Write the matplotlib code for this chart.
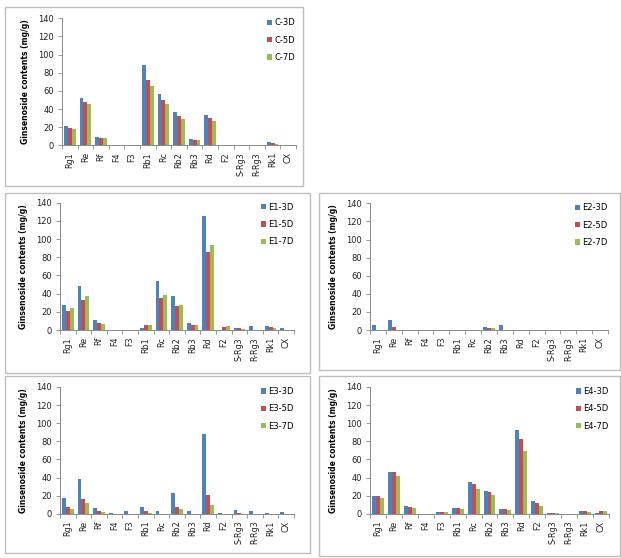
import matplotlib
matplotlib.use("Agg")
import matplotlib.pyplot as plt
import numpy as np
from matplotlib.patches import Rectangle

categories = ["Rg1", "Re", "Rf", "F4", "F3", "Rb1", "Rc", "Rb2", "Rb3", "Rd",
              "F2", "S-Rg3", "R-Rg3", "Rk1", "CX"]
yticks = [0, 20, 40, 60, 80, 100, 120, 140]

C_3D = [21, 52, 9.5, 0, 0, 88, 56.5, 37, 7.4, 33.5, 0, 0.5, 0, 3.7, 0]
C_5D = [19, 47.5, 8.5, 0, 0, 72, 50, 32.5, 6.2, 30, 0, 0.4, 0, 2.3, 0]
C_7D = [18.5, 45.5, 7.7, 0, 0, 65.5, 45.5, 29.5, 5.5, 27, 0, 0.3, 0, 1.5, 0]

E1_3D = [28, 48, 10.5, 0, 0, 2.5, 53.5, 37.5, 8.2, 125, 0, 1.8, 4.3, 4, 2]
E1_5D = [21, 33.5, 7.5, 0, 0.3, 5.3, 35.5, 26.5, 5, 86, 3, 1.8, 0.3, 3, 0]
E1_7D = [24.5, 37.5, 7, 0, 0.3, 5, 39, 28, 6, 94, 4, 1.5, 0.3, 2, 0]

E2_3D = [5, 11, 0, 0, 0, 0, 0, 3, 5.5, 0, 0, 0, 0, 0, 0]
E2_5D = [0.5, 3, 0, 0, 0, 0, 0, 2.2, 0.5, 0, 0, 0, 0, 0, 0]
E2_7D = [0, 0.3, 0, 0, 0, 0, 0, 2, 0.3, 0, 0, 0, 0, 0, 0]

E3_3D = [17, 38.5, 6, 0.5, 2.5, 7.4, 2.5, 23, 3, 88.5, 0.5, 4, 3.2, 0.5, 2.2]
E3_5D = [7.4, 16.5, 2.6, 0, 0, 3, 0, 7.4, 0, 21, 0, 0.3, 0, 0, 0]
E3_7D = [5.2, 11.3, 1.8, 0, 0, 1, 0, 4.8, 0, 9.2, 0, 0, 0, 0, 0]

E4_3D = [19.2, 46, 8.1, 0, 1.5, 5.9, 35, 25, 4.8, 92, 14, 0.5, 0, 3, 0.5]
E4_5D = [19.5, 46, 7.4, 0, 2.2, 5.9, 32.4, 24, 4.8, 83, 11.8, 0.5, 0, 2.6, 3]
E4_7D = [17.3, 41.3, 5.9, 0, 2.2, 5.2, 27.3, 20.6, 4.4, 69, 8.5, 0.5, 0, 1.5, 2.6]

colors = ["#4F81BD", "#C0504D", "#9BBB59"]

W, H = 621, 558
fig = plt.figure(figsize=(W / 100, H / 100), dpi=100)
fig.patch.set_facecolor("white")

def fx(px):
    return px / W

def fy(py):
    return 1 - py / H

# panel borders (left, top, right, bottom) in px
borders = [(5, 7, 303, 186), (5, 193, 310, 373), (319, 193, 620, 370),
           (5, 376, 310, 553), (319, 376, 620, 556)]
for (l, t, r, b) in borders:
    fig.add_artist(Rectangle((fx(l), fy(b)), fx(r) - fx(l), fy(t) - fy(b),
                             transform=fig.transFigure, fill=False,
                             edgecolor="#BEBEBE", linewidth=1.0))

panels = [
    ("C", (C_3D, C_5D, C_7D), (62, 18.3, 296, 145.3)),
    ("E1", (E1_3D, E1_5D, E1_7D), (60, 202.7, 294, 330)),
    ("E2", (E2_3D, E2_5D, E2_7D), (370, 203.3, 608, 330)),
    ("E3", (E3_3D, E3_5D, E3_7D), (60, 387, 294, 513.7)),
    ("E4", (E4_3D, E4_5D, E4_7D), (370, 387, 609, 513.7)),
]

fs = 5.5
x = np.arange(len(categories))
bw = 0.25
for name, series, (l, t, r, b) in panels:
    ax = fig.add_axes([fx(l), fy(b), fx(r) - fx(l), fy(t) - fy(b)])
    labels = [f"{name}-3D", f"{name}-5D", f"{name}-7D"]
    for i, (vals, c, lab) in enumerate(zip(series, colors, labels)):
        ax.bar(x + (i - 1) * bw, vals, width=bw, color=c, label=lab,
               linewidth=0)
    ax.set_xlim(-0.5, len(categories) - 0.5)
    ax.set_ylim(0, 140)
    ax.set_yticks(yticks)
    ax.set_xticks(x)
    ax.set_xticklabels(categories, rotation=90, fontsize=fs + 0.3)
    ax.set_xticks(np.arange(len(categories) + 1) - 0.5, minor=True)
    ax.tick_params(axis="x", which="major", length=0, pad=5, labelcolor="#222222")
    ax.tick_params(axis="x", which="minor", length=3, color="#888888", width=0.6)
    ax.tick_params(axis="y", length=3, color="#888888", width=0.6,
                   labelsize=fs + 0.5, labelcolor="#222222", pad=3)
    for s in ["top", "right"]:
        ax.spines[s].set_visible(False)
    for s in ["left", "bottom"]:
        ax.spines[s].set_color("#888888")
        ax.spines[s].set_linewidth(0.7)
    ax.set_ylabel("Ginsenoside contents (mg/g)", fontsize=fs, fontweight="bold",
                  labelpad=6)
    ax.patch.set_alpha(0)
    ax.legend(loc="upper right", bbox_to_anchor=(1.02, 1.04), frameon=False,
              fontsize=fs + 0.5, handlelength=0.6, handleheight=0.6,
              handletextpad=0.3, labelspacing=1.0, borderaxespad=0.2)

fig.savefig("out.png", dpi=100, facecolor="white")
